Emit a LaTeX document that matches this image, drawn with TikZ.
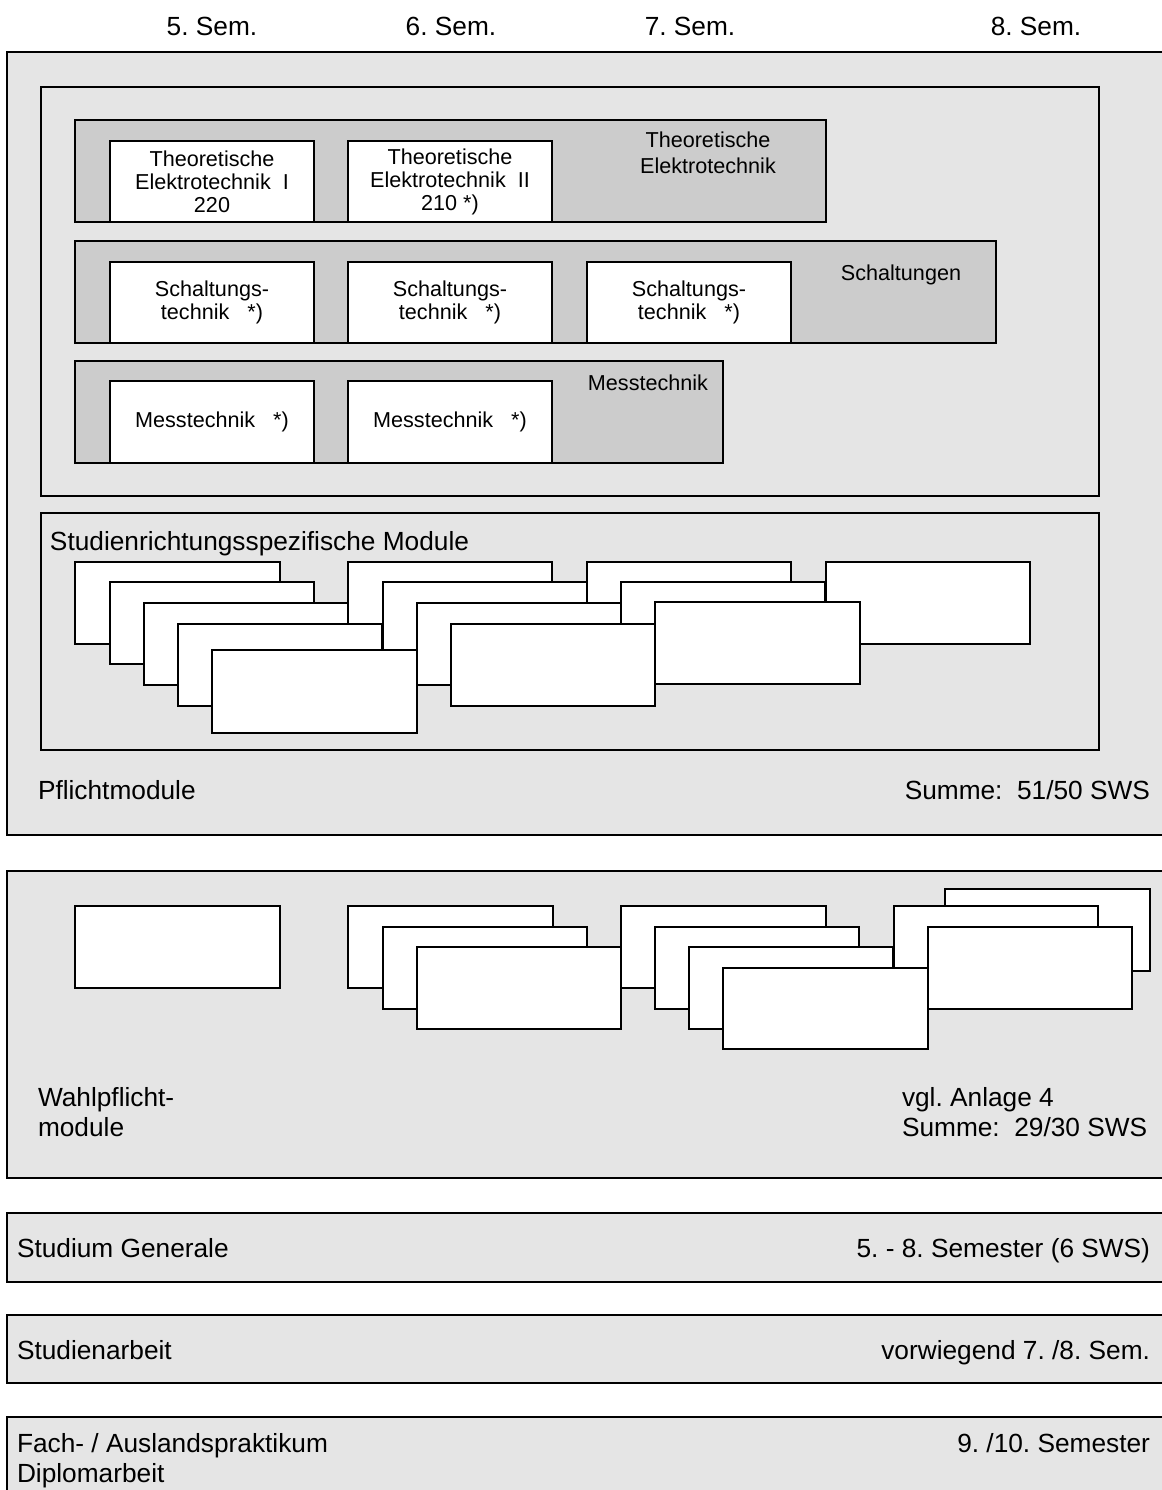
\documentclass[tikz,border=0pt]{standalone}
\usepackage{fontspec}
\setmainfont{Liberation Sans}
\frenchspacing
\definecolor{paleg}{RGB}{229,229,229}
\definecolor{midg}{RGB}{204,204,204}
\begin{document}
\begin{tikzpicture}[x=0.75pt,y=-0.75pt,
  lg/.style={font=\fontsize{19.7}{22.5}\selectfont, inner sep=0pt, outer sep=0pt},
  lgml/.style={font=\fontsize{19.7}{22.5}\selectfont, inner sep=0pt, outer sep=0pt, align=left, anchor=north west},
  sm/.style={font=\fontsize{16.2}{17.25}\selectfont, inner sep=0pt, outer sep=0pt, align=center},
  rbox/.style n args={3}{draw=black, line width=1.1pt, fill=#1, anchor=north west,
     minimum width={#2*0.75pt}, minimum height={#3*0.75pt}, inner sep=0pt, outer sep=0pt,
     align=center, font=\fontsize{16.2}{17.25}\selectfont},
  frame/.style 2 args={rbox={paleg}{#1}{#2}},
  band/.style 2 args={rbox={midg}{#1}{#2}},
  modbox/.style 2 args={rbox={white}{#1}{#2}}
]
\useasboundingbox (0,0) rectangle (1162,1490);
\clip (0,0) rectangle (1162,1490);
\fill[white] (0,0) rectangle (1162,1490);

% semester headers
\node[lg, anchor=base] (s5) at (212,35) {5. Sem.};
\node[lg, anchor=base] (s6) at (451,35) {6. Sem.};
\node[lg, anchor=base] (s7) at (690,35) {7. Sem.};
\node[lg, anchor=base] (s8) at (1036,35) {8. Sem.};

% Pflichtmodule
\node[frame={1175}{783}] (pflicht) at (7,52) {};
\node[frame={1058}{409}] (kern) at (41,87) {};
\node[band={751}{102}] (teband) at (75,120) {};
\node[modbox={204}{81}] (te1) at (110,141) {Theoretische\\Elektrotechnik\ \ I\\220};
\node[modbox={204}{81}] (te2) at (348,141) {Theoretische\\Elektrotechnik\ \ II\\210 *)};
\node[sm, anchor=north, font=\fontsize{16.2}{19.5}\selectfont] (telbl) at (708,132) {Theoretische\\Elektrotechnik};

\node[band={921}{102}] (schband) at (75,241) {};
\node[modbox={204}{81}] (sch1) at (110,262) {Schaltungs-\\technik\ \ \ *)};
\node[modbox={204}{81}] (sch2) at (348,262) {Schaltungs-\\technik\ \ \ *)};
\node[modbox={204}{81}] (sch3) at (587,262) {Schaltungs-\\technik\ \ \ *)};
\node[sm, anchor=base] (schlbl) at (901,280) {Schaltungen};

\node[band={648}{102}] (messband) at (75,361) {};
\node[modbox={204}{82}] (mt1) at (110,381) {Messtechnik\ \ \ *)};
\node[modbox={204}{82}] (mt2) at (348,381) {Messtechnik\ \ \ *)};
\node[sm, anchor=base] (mtlbl) at (648,390) {Messtechnik};

\node[frame={1058}{237}] (srm) at (41,513) {};
\node[lg, anchor=base west] (srmlbl) at (50,550) {Studienrichtungsspezifische Module};
% stacked module cards, drawn level by level
\node[modbox={205}{82}] (a1) at (75,562) {};
\node[modbox={204}{82}] (b1) at (348,562) {};
\node[modbox={204}{82}] (c1) at (587,562) {};
\node[modbox={204}{82}] (d1) at (826,562) {};
\node[modbox={204}{82}] (a2) at (110,582) {};
\node[modbox={204}{82}] (b2) at (383,582) {};
\node[modbox={204}{82}] (c2) at (621,582) {};
\node[modbox={204}{82}] (a3) at (144,603) {};
\node[modbox={204}{82}] (b3) at (417,603) {};
\node[modbox={205}{82}] (c3) at (655,602) {};
\node[modbox={204}{82}] (a4) at (178,624) {};
\node[modbox={204}{82}] (b4) at (451,624) {};
\node[modbox={205}{83}] (a5) at (212,650) {};

\node[lg, anchor=base west] (pflbl) at (38,799) {Pflichtmodule};
\node[lg, anchor=base east] (pfsum) at (1150,799) {Summe:\ \ 51/50 SWS};

% Wahlpflichtmodule
\node[frame={1175}{307}] (wahl) at (7,871) {};
\node[modbox={205}{82}] (w0) at (75,906) {};
\node[modbox={205}{82}] (x4) at (945,889) {};
\node[modbox={205}{82}] (v1) at (348,906) {};
\node[modbox={205}{82}] (x1) at (621,906) {};
\node[modbox={204}{82}] (y1) at (894,906) {};
\node[modbox={204}{82}] (v2) at (383,927) {};
\node[modbox={204}{82}] (x2) at (655,927) {};
\node[modbox={204}{82}] (y2) at (928,927) {};
\node[modbox={204}{82}] (v3) at (417,947) {};
\node[modbox={204}{82}] (x3) at (689,947) {};
\node[modbox={205}{81}] (x5) at (723,968) {};
\node[lgml] (wlbl) at (38,1087) {Wahlpflicht-\\module};
\node[lgml] (wsum) at (902,1087) {vgl. Anlage 4\\Summe:\ \ 29/30 SWS};

% Studium Generale
\node[frame={1175}{69}] (sg) at (7,1213) {};
\node[lg, anchor=base west] (sglbl) at (17,1257) {Studium Generale};
\node[lg, anchor=base east] (sgr) at (1150,1257) {5. - 8. Semester (6 SWS)};

% Studienarbeit
\node[frame={1175}{68}] (sa) at (7,1315) {};
\node[lg, anchor=base west] (salbl) at (17,1359) {Studienarbeit};
\node[lg, anchor=base east] (sar) at (1150,1359) {vorwiegend 7. /8. Sem.};

% Praktikum / Diplomarbeit
\node[frame={1175}{100}] (dp) at (7,1417) {};
\node[lgml] (dplbl) at (17,1433) {Fach- / Auslandspraktikum\\Diplomarbeit};
\node[lg, anchor=base east] (dpr) at (1150,1452) {9. /10. Semester};
\end{tikzpicture}
\end{document}
